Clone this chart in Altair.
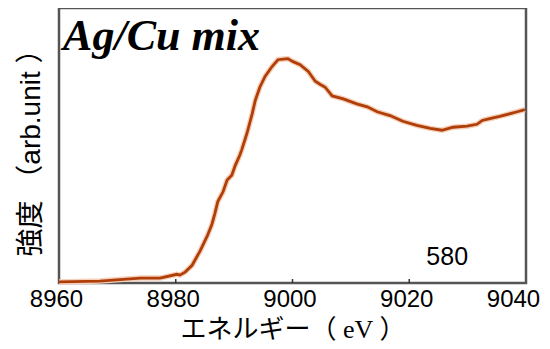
import altair as alt
import pandas as pd

energy = [8960, 8967.0, 8973.9, 8977.3, 8980.2, 8980.7, 8981.6, 8982.8, 8984.2, 8985.4,
          8986.2, 8986.7, 8987.2, 8988.1, 8988.8, 8989.6, 8990.2, 8991.0, 8991.3, 8992.2,
          8993.1, 8993.6, 8994.4, 8995.3, 8996.5, 8997.5, 8999.2, 9000.1, 9001.3, 9002.7,
          9003.9, 9004.7, 9005.6, 9006.8, 9008.7, 9011.0, 9012.8, 9014.5, 9016.7, 9018.9,
          9021.3, 9023.6, 9025.6, 9027.5, 9029.9, 9031.6, 9032.5, 9033.8, 9035.5, 9037.3,
          9038.5, 9039.8]
intensity = [0.004, 0.007, 0.018, 0.018, 0.032, 0.029, 0.040, 0.065, 0.119, 0.173,
             0.216, 0.255, 0.299, 0.335, 0.378, 0.396, 0.432, 0.471, 0.489, 0.550,
             0.622, 0.669, 0.719, 0.759, 0.795, 0.820, 0.824, 0.813, 0.802, 0.777,
             0.741, 0.730, 0.719, 0.687, 0.676, 0.658, 0.647, 0.629, 0.615, 0.594,
             0.579, 0.568, 0.561, 0.572, 0.576, 0.583, 0.597, 0.604, 0.612, 0.622,
             0.629, 0.637]
tick_values = [8960, 8980, 9000, 9020, 9040]
inner_ticks = [8980, 9000, 9020]

df = pd.DataFrame({"e": energy, "i": intensity})
ticks_df = pd.DataFrame({"t": inner_ticks})
label_df = pd.DataFrame({"e": [8960.7], "i": [0.856], "txt": ["Ag/Cu mix"]})
num_df = pd.DataFrame({"e": [9026.5], "i": [0.065], "txt": ["580"]})

xscale = alt.Scale(domain=[8960, 9040], nice=False, zero=False)
yscale = alt.Scale(domain=[0, 1.01], nice=False)

xaxis = alt.Axis(values=tick_values, format="d", labelFontSize=24, labelFont="Liberation Sans",
                 labelColor="black", domain=False, ticks=False, grid=False, labelPadding=4,
                 labelOffset=alt.condition("datum.value == 9040", alt.value(-13), alt.value(-3)),
                 title="エネルギー（ eV ）", titleFont="Liberation Serif, Noto Sans CJK JP",
                 titleFontSize=26, titleFontWeight="normal", titleColor="black", titlePadding=5,
                 labelFlush=False, labelOverlap=False)
yaxis = alt.Axis(labels=False, ticks=False, domain=False, grid=False,
                 title="強度  （arb.unit  ）", titleFont="Liberation Sans, Noto Sans CJK JP",
                 titleFontSize=28, titleFontWeight="normal", titleColor="black", titlePadding=14)

base = alt.Chart(df)
halo = base.mark_line(color="#f5d0ba", strokeWidth=5.5).encode(
    x=alt.X("e:Q", scale=xscale, axis=xaxis),
    y=alt.Y("i:Q", scale=yscale, axis=yaxis),
)
line = base.mark_line(color="#b03e08", strokeWidth=2.8).encode(
    x=alt.X("e:Q", scale=xscale),
    y=alt.Y("i:Q", scale=yscale),
)
tks = alt.Chart(ticks_df).mark_rule(color="#333", strokeWidth=1.5).encode(
    x=alt.X("t:Q", scale=xscale),
    y=alt.value(271), y2=alt.value(275),
)
title_txt = alt.Chart(label_df).mark_text(font="Liberation Serif", fontSize=44, fontWeight="bold",
                                          fontStyle="italic", align="left", baseline="alphabetic",
                                          color="black").encode(
    x=alt.X("e:Q", scale=xscale), y=alt.Y("i:Q", scale=yscale), text="txt:N")
num_txt = alt.Chart(num_df).mark_text(font="Liberation Sans", fontSize=25, align="center",
                                      baseline="alphabetic", color="black").encode(
    x=alt.X("e:Q", scale=xscale), y=alt.Y("i:Q", scale=yscale), text="txt:N")

chart = alt.layer(halo, line, tks, title_txt, num_txt).properties(
    width=467, height=275,
    autosize=alt.AutoSizeParams(type="none"),
    padding={"left": 51, "top": 0, "right": 16, "bottom": 66},
).configure_view(stroke="#555555", strokeWidth=2.5)

chart.save("out.html", embed_options={"renderer": "svg", "actions": False})
